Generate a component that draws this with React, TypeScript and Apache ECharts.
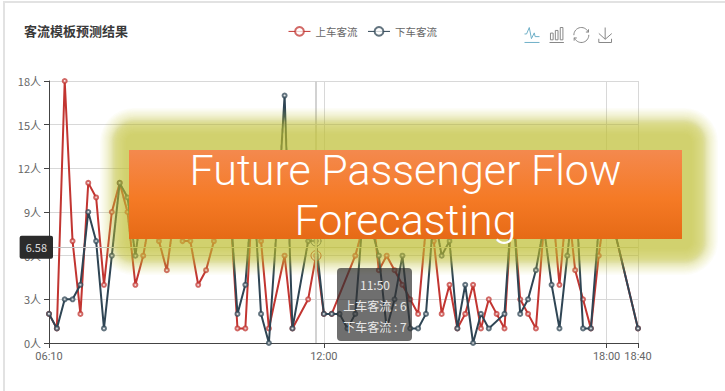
import React, { useEffect, useRef } from "react";
import * as echarts from "echarts";

const categories = [
  "06:10","06:20","06:30","06:40","06:50","07:00","07:10","07:20","07:30","07:40",
  "07:50","08:00","08:10","08:20","08:30","08:40","08:50","09:00","09:10","09:20",
  "09:30","09:40","09:50","10:00","10:10","10:20","10:30","10:40","10:50","11:00",
  "11:10","11:20","11:30","11:40","11:50","12:00","12:10","12:20","12:30","12:40",
  "12:50","13:00","13:10","13:20","13:30","13:40","13:50","14:00","14:10","14:20",
  "14:30","14:40","14:50","15:00","15:10","15:20","15:30","15:40","15:50","16:00",
  "16:10","16:20","16:30","16:40","16:50","17:00","17:10","17:20","17:30","17:40",
  "17:50","18:00","18:10","18:20","18:30","18:40",
];
const shownTimes = ["06:10", "12:00", "18:00", "18:40"];
// Slots with no reading are null; the line runs straight across them.
const boardingFlow = [
  2,1,18,7,2,11,10,4,9,11,9,4,6,9,7,5,9,7,7,4,
  5,7,9,10,1,1,11,7,1,null,6,1,null,3,6,2,2,null,null,6,
  8,10,5,6,5,4,3,2,8,7,2,4,1,2,4,1,3,2,1,10,
  3,2,1,8,10,4,10,5,3,1,6,10,null,null,null,1,
];
const alightingFlow = [
  2,1,3,3,4,9,7,1,6,11,10,6,10,8,9,8,10,9,8,9,
  8,10,8,10,2,4,11,2,0,8,17,1,null,7,7,2,2,2,1,2,
  9,8,6,1,3,6,1,1,2,9,6,7,1,4,0,2,1,null,2,10,
  2,3,5,8,4,1,6,11,1,1,8,10,null,null,null,1,
];
const yTicks = [0, 3, 6, 9, 12, 15, 18];
const pointerTime = "11:50";
const pointerValue = 6.58;
const seriesNames = ["上车客流", "下车客流"];
const title = "客流模板预测结果";
const bannerLines = ["Future Passenger Flow", "Forecasting"];

const RED = "#c23531";
const SLATE = "#2f4554";
const FONT = '"Noto Sans CJK SC", "Noto Sans", sans-serif';

// Soft halo behind the banner: stacked translucent rounded rects, densest mid-fade.
function haloLayers() {
  const n = 32;
  const spread = 26;
  const alpha = 1 - Math.pow(0.3, 1 / n);
  return Array.from({ length: n }, (_, k) => {
    const t = k / (n - 1);
    const inset = spread * (t + (0.5 * Math.sin(2 * Math.PI * t)) / (2 * Math.PI));
    return {
      type: "rect",
      z: 100,
      silent: true,
      shape: {
        x: 100 + inset,
        y: 108 + inset,
        width: 618 - 2 * inset,
        height: 167 - 2 * inset,
        r: Math.max(34 - inset, 6),
      },
      style: { fill: `rgba(195,195,70,${alpha})` },
    };
  });
}

export default function App() {
  const ref = useRef<HTMLDivElement>(null);

  useEffect(() => {
    const chart = echarts.init(ref.current!, undefined, { renderer: "svg" });
    const pointerIndex = categories.indexOf(pointerTime);
    const isShown = (_: number, v: string) => shownTimes.includes(v);

    const line = (name: string, data: (number | null)[], color: string, z: number) => ({
      name,
      type: "line",
      data,
      z,
      connectNulls: true,
      symbol: "emptyCircle",
      symbolSize: 4,
      showAllSymbol: true,
      lineStyle: { width: 2, color },
      itemStyle: { color, borderWidth: 1, borderColor: color, opacity: 0.75 },
      markPoint: {
        silent: true,
        symbol: "circle",
        symbolSize: 10,
        label: { show: false },
        itemStyle: { color: "rgba(255,255,255,0.3)", borderColor: color, borderWidth: 1 },
        data: [{ coord: [pointerTime, data[pointerIndex]] }],
      },
    });

    chart.setOption({
      animation: false,
      backgroundColor: "#fff",
      textStyle: { fontFamily: FONT },
      color: [RED, SLATE],
      title: {
        text: title,
        left: 19,
        top: 19,
        textStyle: { fontSize: 13, fontWeight: "bold", color: "#3a3a3a", fontFamily: FONT },
      },
      legend: {
        left: 283,
        top: 21,
        itemWidth: 22,
        itemHeight: 11,
        itemGap: 10,
        textStyle: { fontSize: 10.5, color: "#666", fontFamily: FONT },
        lineStyle: { width: 1 },
        itemStyle: { borderWidth: 1 },
        data: seriesNames,
      },
      toolbox: {
        left: 507,
        top: 10,
        itemSize: 15,
        itemGap: 5,
        showTitle: false,
        iconStyle: { borderColor: "#888", borderWidth: 1 },
        emphasis: { iconStyle: { borderColor: "#6fb0c8" } },
        feature: {
          magicType: { type: ["line", "bar"], iconStatus: { line: "emphasis" } },
          restore: {},
          saveAsImage: {},
        },
      },
      grid: { left: 49, right: 87, top: 81, bottom: 48 },
      xAxis: {
        type: "category",
        boundaryGap: false,
        data: categories,
        axisLine: { lineStyle: { color: "#444" } },
        axisTick: { interval: isShown, alignWithLabel: true, lineStyle: { color: "#444" } },
        axisLabel: { interval: isShown, color: "#666", fontSize: 11, margin: 8, fontFamily: "Roboto, sans-serif" },
        splitLine: { show: true, interval: isShown, lineStyle: { color: "#d8d8d8" } },
        axisPointer: {
          show: true,
          status: "show",
          value: pointerTime,
          type: "line",
          snap: false,
          lineStyle: { color: "#d2d2d2", width: 2, type: "solid" },
          label: { show: false },
        },
      },
      yAxis: {
        type: "value",
        min: yTicks[0],
        max: yTicks[yTicks.length - 1],
        interval: 3,
        axisLine: { show: true, lineStyle: { color: "#444" } },
        axisTick: { show: true, lineStyle: { color: "#444" } },
        axisLabel: { formatter: "{value}人", color: "#666", fontSize: 11, margin: 8 },
        splitLine: { show: true, lineStyle: { color: "#d8d8d8" } },
        axisPointer: {
          show: true,
          status: "show",
          value: pointerValue,
          type: "line",
          snap: false,
          lineStyle: { color: "#c4c4c4", width: 1, type: "solid" },
          label: {
            show: true,
            formatter: String(pointerValue),
            backgroundColor: "#2b2b2b",
            color: "#ddd",
            fontSize: 11,
            padding: [6, 6],
            borderRadius: 2,
            margin: -4,
          },
        },
      },
      series: [
        line(seriesNames[0], boardingFlow, RED, 2),
        line(seriesNames[1], alightingFlow, SLATE, 3),
      ],
      graphic: [
        {
          type: "polyline",
          z: 1,
          silent: true,
          shape: { points: [[4, 391], [4, 2], [725, 2]] },
          style: { fill: "none", stroke: "#e2e2e2", lineWidth: 2 },
        },
        ...haloLayers(),
        {
          type: "rect",
          z: 101,
          silent: true,
          shape: { x: 129, y: 150, width: 553, height: 89 },
          style: {
            fill: new echarts.graphic.LinearGradient(0, 0, 0, 1, [
              { offset: 0, color: "#f4894e" },
              { offset: 0.55, color: "#f57a25" },
              { offset: 1, color: "#e66a16" },
            ]),
          },
        },
        ...bannerLines.map((text, i) => ({
          type: "text",
          z: 102,
          silent: true,
          style: {
            x: 405.5,
            y: 170 + i * 50,
            text,
            fill: "#fff",
            font: '300 43px Roboto, sans-serif',
            align: "center",
            verticalAlign: "middle",
          },
        })),
        {
          type: "rect",
          z: 110,
          silent: true,
          shape: { x: 337, y: 268, width: 75, height: 73, r: 4 },
          style: { fill: "rgba(50,50,50,0.7)" },
        },
        ...[
          pointerTime,
          `${seriesNames[0]} : ${boardingFlow[pointerIndex]}`,
          `${seriesNames[1]} : ${alightingFlow[pointerIndex]}`,
        ].map((text, i) => ({
          type: "text",
          z: 111,
          silent: true,
          style: {
            x: 375,
            y: 284 + i * 21,
            text,
            fill: "#e8e8e8",
            font: `12px ${FONT}`,
            align: "center",
            verticalAlign: "middle",
          },
        })),
      ],
    });
    return () => chart.dispose();
  }, []);

  return (
    <div
      ref={ref}
      style={{ position: "absolute", left: 0, top: 0, width: 725, height: 391 }}
    />
  );
}
